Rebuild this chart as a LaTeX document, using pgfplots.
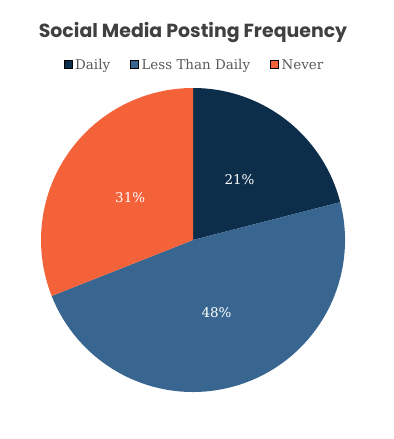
\documentclass[border=0pt]{standalone}
\usepackage{pgfplots}
\pgfplotsset{compat=1.18}
\usepackage{pgfplotstable}
\usepackage{fontspec}
\setmainfont{DejaVu Serif}
\newfontfamily\titlefont{Poppins}
\definecolor{cdaily}{HTML}{0D2E4A}
\definecolor{cless}{HTML}{386690}
\definecolor{cnever}{HTML}{F4623A}
\definecolor{ctitle}{HTML}{404040}
\definecolor{clegend}{HTML}{595959}

\pgfplotstableread[col sep=comma]{
label,value,color
Daily,21,cdaily
Less Than Daily,48,cless
Never,31,cnever
}\piedata

\begin{document}
\begin{tikzpicture}
\path[use as bounding box] (0,0) rectangle (394bp,439bp);
\begin{axis}[width=394bp,height=439bp,scale only axis,
  xmin=0,xmax=394,ymin=0,ymax=439,hide axis,
  legend columns=3,
  legend style={draw=none, fill=none, at={(axis cs:195,374)}, anchor=center,
    font=\fontsize{13.5}{15}\selectfont\color{clegend},
    /tikz/every even column/.append style={column sep=17bp},
    /tikz/every odd column/.append style={column sep=0bp},
    nodes={inner xsep=3bp}},
  legend image code/.code={\fill[#1] (0bp,-3.5bp) rectangle (8bp,4.5bp);},
]
\addlegendimage{fill=cdaily}
\addlegendentry{Daily}
\addlegendimage{fill=cless}
\addlegendentry{Less Than Daily}
\addlegendimage{fill=cnever}
\addlegendentry{Never}
\coordinate (C) at (axis cs:193,199);
\node[font=\titlefont\bfseries\fontsize{19}{22}\selectfont, text=ctitle] at (axis cs:193,406) {Social Media Posting Frequency};
\end{axis}
\pgfplotstablegetrowsof{\piedata}\let\nrows\pgfplotsretval
\pgfmathtruncatemacro\lastrow{\nrows-1}
\xdef\startang{90}
\foreach \i in {0,...,\lastrow}{
  \pgfplotstablegetelem{\i}{value}\of\piedata \let\v\pgfplotsretval
  \pgfplotstablegetelem{\i}{color}\of\piedata \let\c\pgfplotsretval
  \pgfmathsetmacro\endang{\startang-3.6*\v}
  \pgfmathsetmacro\midang{(\startang+\endang)/2}
  \fill[\c] (C) -- ([shift={(\startang:152bp)}]C) arc[start angle=\startang, end angle=\endang, radius=152bp] -- cycle;
  \node[text=white, font=\fontsize{13.5}{15}\selectfont] at ([shift={(\midang:76bp)}]C) {\v\%};
  \xdef\startang{\endang}
}
\end{tikzpicture}
\end{document}
